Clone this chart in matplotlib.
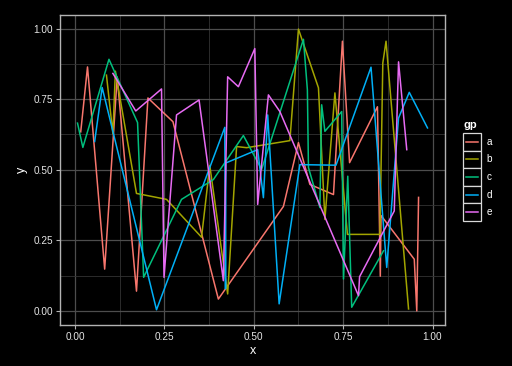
import numpy as np
import matplotlib
matplotlib.use('Agg')
import matplotlib.pyplot as plt
from matplotlib.patches import Rectangle
from matplotlib.ticker import MultipleLocator
plt.rcParams["font.family"] = ["Liberation Sans", "DejaVu Sans"]

groups = ["a", "b", "c", "d", "e"]
colours = ["#F8766D", "#A3A500", "#00BF7D", "#00B0F6", "#E76BF3"]

# path data per group, in drawing order
a_x = [0.016, 0.035, 0.083, 0.118, 0.172, 0.204, 0.274, 0.401, 0.583, 0.625,
       0.657, 0.723, 0.748, 0.768, 0.846, 0.854, 0.856, 0.949, 0.956, 0.961]
a_y = [0.634, 0.864, 0.148, 0.828, 0.070, 0.754, 0.670, 0.042, 0.370, 0.596,
       0.448, 0.412, 0.955, 0.525, 0.723, 0.123, 0.338, 0.183, 0.000, 0.402]

b_x = [0.088, 0.106, 0.113, 0.172, 0.256, 0.354, 0.377, 0.427, 0.452, 0.480,
       0.601, 0.625, 0.681, 0.699, 0.727, 0.762, 0.853, 0.861, 0.870, 0.933]
b_y = [0.835, 0.627, 0.849, 0.416, 0.395, 0.261, 0.515, 0.060, 0.582, 0.578,
       0.603, 0.998, 0.790, 0.324, 0.772, 0.271, 0.271, 0.878, 0.955, 0.007]

c_x = [0.007, 0.022, 0.095, 0.175, 0.192, 0.298, 0.387, 0.471, 0.522, 0.639,
       0.650, 0.653, 0.685, 0.690, 0.699, 0.746, 0.751, 0.763, 0.774, 0.863]
c_y = [0.665, 0.579, 0.891, 0.667, 0.119, 0.395, 0.465, 0.621, 0.501, 0.962,
       0.783, 0.508, 0.366, 0.730, 0.636, 0.706, 0.113, 0.477, 0.013, 0.213]

d_x = [0.055, 0.076, 0.228, 0.419, 0.421, 0.422, 0.511, 0.527, 0.539, 0.571,
       0.629, 0.730, 0.828, 0.872, 0.905, 0.935, 0.986]
d_y = [0.600, 0.791, 0.004, 0.650, 0.078, 0.524, 0.571, 0.401, 0.694, 0.025,
       0.518, 0.516, 0.863, 0.154, 0.683, 0.774, 0.648]

e_x = [0.106, 0.170, 0.242, 0.249, 0.284, 0.347, 0.415, 0.427, 0.457, 0.503,
       0.511, 0.541, 0.573, 0.793, 0.796, 0.893, 0.905, 0.928]
e_y = [0.841, 0.708, 0.786, 0.119, 0.694, 0.747, 0.107, 0.829, 0.794, 0.929,
       0.377, 0.765, 0.706, 0.054, 0.121, 0.354, 0.882, 0.571]

paths = [(a_x, a_y), (b_x, b_y), (c_x, c_y), (d_x, d_y), (e_x, e_y)]

fig = plt.figure(figsize=(5.12, 3.66), dpi=100, facecolor="black")
ax = fig.add_axes([60/512, 41/366, 385/512, 310/366], facecolor="black")

for (px, py), col in zip(paths, colours):
    ax.plot(px, py, color=col, linewidth=1.1)

ax.margins(0.05)
ax.xaxis.set_major_locator(MultipleLocator(0.25))
ax.yaxis.set_major_locator(MultipleLocator(0.25))
ax.xaxis.set_minor_locator(MultipleLocator(0.125))
ax.yaxis.set_minor_locator(MultipleLocator(0.125))
ax.xaxis.set_major_formatter(matplotlib.ticker.FormatStrFormatter("%.2f"))
ax.yaxis.set_major_formatter(matplotlib.ticker.FormatStrFormatter("%.2f"))
ax.grid(which="major", color="#4D4D4D", linewidth=0.9)
ax.grid(which="minor", color="#333333", linewidth=0.6)
ax.set_axisbelow(True)
for s in ax.spines.values():
    s.set_color("#B3B3B3")
    s.set_linewidth(1.0)
ax.tick_params(which="major", colors="#B3B3B3", labelcolor="#E6E6E6",
               labelsize=7.2, length=3, width=0.8, pad=2)
ax.tick_params(which="minor", length=0)
ax.set_xlabel("x", color="white", fontsize=9, labelpad=2)
ax.set_ylabel("y", color="white", fontsize=9, labelpad=4)

# legend drawn as its own little axes
lax = fig.add_axes([463/512, (366-221)/366, 18/512, 88/366])
lax.set_xlim(0, 1)
lax.set_ylim(0, len(groups))
lax.axis("off")
for i, (g, col) in enumerate(zip(groups, colours)):
    yb = len(groups) - 1 - i
    lax.add_patch(Rectangle((0, yb), 1, 1, facecolor="black",
                            edgecolor="#D9D9D9", linewidth=0.9, clip_on=False))
    lax.plot([0.15, 0.85], [yb + 0.5, yb + 0.5], color=col, linewidth=1.1)
    lax.text(1.3, yb + 0.5, g, color="white", fontsize=7.2, va="center", ha="left")
lax.text(0.0, len(groups) + 0.15, "gp", color="white", fontsize=8,
         fontweight="bold", va="bottom", ha="left")

fig.savefig("out.png", dpi=100, facecolor="black")
plt.close(fig)
